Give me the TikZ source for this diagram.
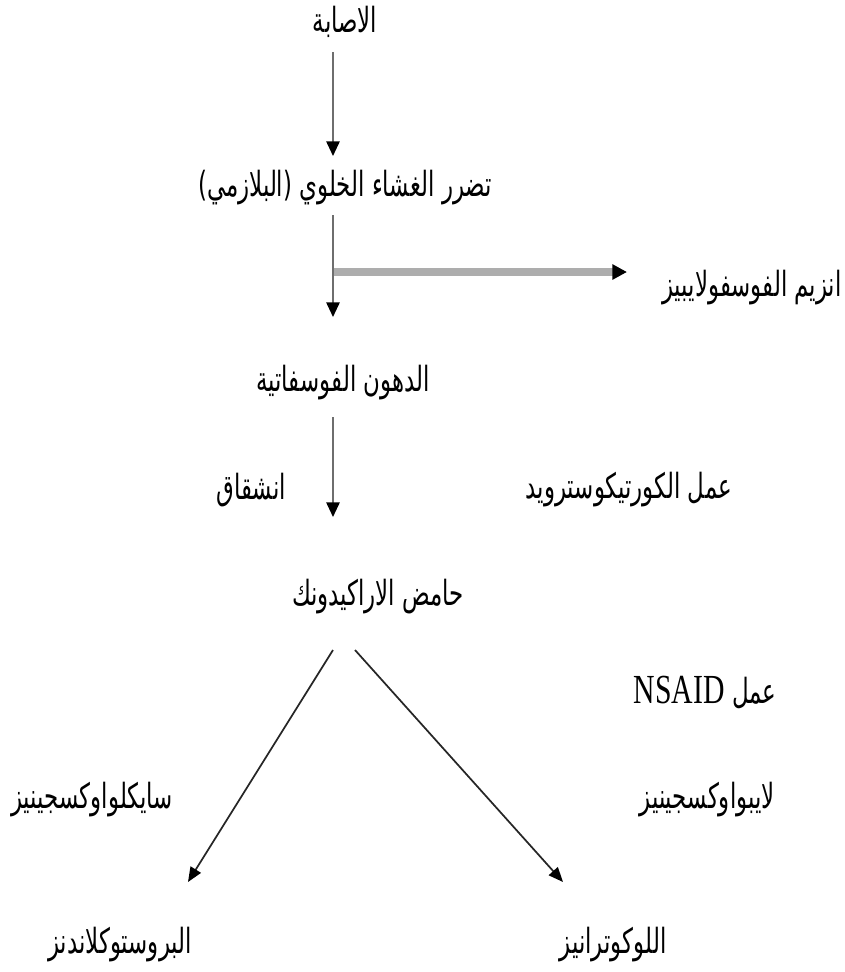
\documentclass[tikz,border=0pt]{standalone}
\usepackage{fontspec}
\usetikzlibrary{arrows.meta}
\TeXXeTstate=1
\newfontfamily\arabicfont[Script=Arabic,FakeStretch=0.66]{DejaVu Sans}
\newfontfamily\latinfont[FakeStretch=0.72]{Liberation Serif}
\definecolor{linegray}{RGB}{110,110,110}
\definecolor{thickgray}{RGB}{173,173,173}
\tikzset{
  lbl/.style={inner sep=0pt, anchor=center, font=\arabicfont\fontsize{26pt}{30pt}\selectfont},
  conn/.style={draw=linegray, line width=1.3pt, -{Triangle[length=11pt,width=10pt,color=black]}},
  diag/.style={draw=black!85, line width=1.3pt, -{Triangle[length=11pt,width=9pt,color=black]}},
  thickconn/.style={draw=thickgray, line width=6pt, -{Triangle[length=11pt,width=11pt,color=black]}}
}
\begin{document}
\begin{tikzpicture}[x=0.75pt,y=-0.75pt]
\useasboundingbox (0,0) rectangle (844,972);
% texts
\node[lbl] (injury) at (345,22) {\beginR الاصابة\endR};
\node[lbl] (membrane) at (345,188) {\beginR تضرر الغشاء الخلوي (البلازمي)\endR};
\node[lbl] (phospholipase) at (752,288) {\beginR انزيم الفوسفولايبيز\endR};
\node[lbl] (phospholipids) at (343,383) {\beginR الدهون الفوسفاتية\endR};
\node[lbl] (cleave) at (251,490) {\beginR انشقاق\endR};
\node[lbl] (cortico) at (629,490) {\beginR عمل الكورتيكوسترويد\endR};
\node[lbl] (arach) at (378,597) {\beginR حامض الاراكيدونك\endR};
\node[lbl] (nsaid) at (705,692) {\beginR عمل \beginL{\latinfont\fontsize{31pt}{34pt}\selectfont NSAID}\endL\endR};
\node[lbl] (cox) at (92,800) {\beginR سايكلواوكسجينيز\endR};
\node[lbl] (lox) at (707,800) {\beginR لايبواوكسجينيز\endR};
\node[lbl] (pg) at (120,945) {\beginR البروستوكلاندنز\endR};
\node[lbl] (lt) at (613,945) {\beginR اللوكوترانيز\endR};
% connector end points
\coordinate (a1s) at (333,52);  \coordinate (a1e) at (333,156);
\coordinate (a2s) at (333,215); \coordinate (a2e) at (333,317);
\coordinate (hs) at (333,272);  \coordinate (he) at (627,272);
\coordinate (a3s) at (333,417); \coordinate (a3e) at (333,517);
\coordinate (l1s) at (333,650); \coordinate (l1e) at (188,882);
\coordinate (r1s) at (355,650); \coordinate (r1e) at (563,882);
% connectors
\draw[thickconn] (hs) -- (he);
\draw[conn] (a1s) -- (a1e);
\draw[conn] (a2s) -- (a2e);
\draw[conn] (a3s) -- (a3e);
\draw[diag] (l1s) -- (l1e);
\draw[diag] (r1s) -- (r1e);
\end{tikzpicture}
\end{document}
